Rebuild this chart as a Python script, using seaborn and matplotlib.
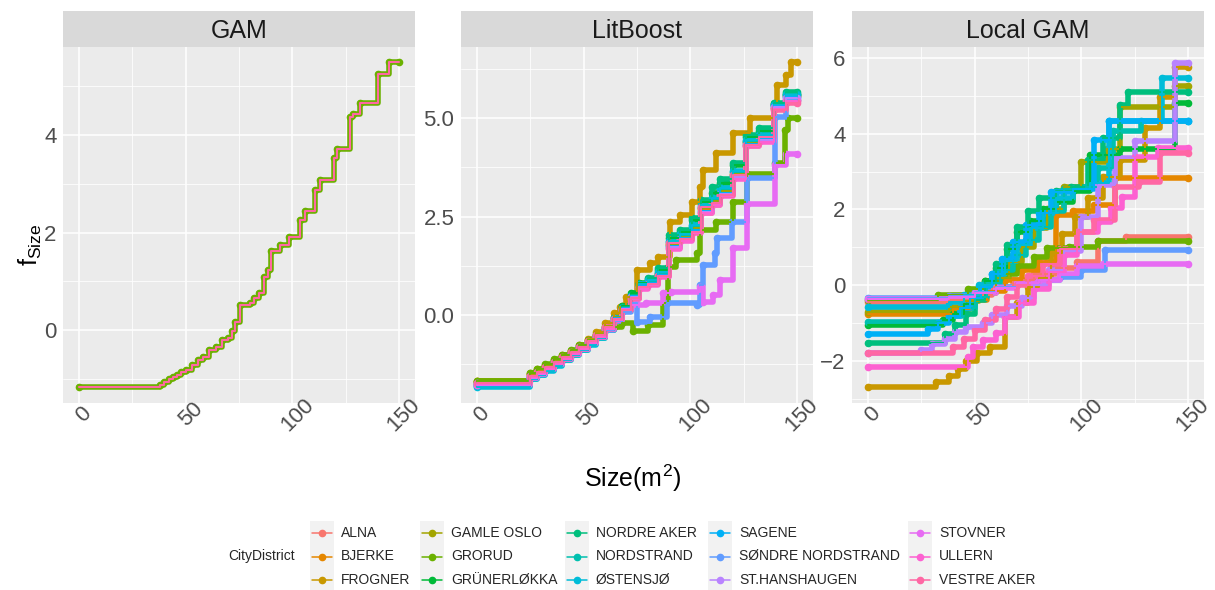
import matplotlib
matplotlib.use("Agg")
import matplotlib.pyplot as plt
from matplotlib.lines import Line2D
from matplotlib.patches import Rectangle
from matplotlib.ticker import MultipleLocator
from matplotlib.transforms import ScaledTranslation
import pandas as pd
import seaborn as sns

DISTRICTS = [
    "ALNA", "BJERKE", "FROGNER", "GAMLE OSLO", "GRORUD", "GRÜNERLØKKA",
    "NORDRE AKER", "NORDSTRAND", "ØSTENSJØ", "SAGENE", "SØNDRE NORDSTRAND",
    "ST.HANSHAUGEN", "STOVNER", "ULLERN", "VESTRE AKER",
]
COLORS = [
    "#F8766D", "#E58700", "#C99800", "#A3A500", "#6BB100", "#00BA38",
    "#00BF7D", "#00C0AF", "#00BCD8", "#00B0F6", "#619CFF", "#B983FF",
    "#E76BF3", "#FD61D1", "#FF67A4",
]
PALETTE = dict(zip(DISTRICTS, COLORS))
SIZE_TICKS = [0, 50, 100, 150]

# GAM: one shared shape function for every district
gam_x = [0, 38, 40, 42, 44, 46, 48, 50, 53, 56, 58, 61, 64, 67, 70, 71.5, 73, 75.5, 80, 82,
         84.5, 86.5, 88.5, 90, 94, 98.5, 103.5, 106, 110.5, 113, 119.5, 121, 127, 128.5,
         131.5, 140, 145.5, 150]
gam_y = [-1.16, -1.12, -1.06, -1.0, -0.96, -0.92, -0.86, -0.82, -0.72, -0.62, -0.56, -0.41,
         -0.34, -0.21, -0.17, -0.03, 0.17, 0.51, 0.55, 0.65, 0.75, 1.09, 1.23, 1.63, 1.74,
         1.91, 2.26, 2.45, 2.87, 3.08, 3.52, 3.71, 4.36, 4.44, 4.66, 5.26, 5.49, 5.49]

# LitBoost: most districts share the same step positions
lb_x = [0, 25, 28, 32, 36, 40, 44, 48, 52, 56, 60, 64, 68, 72, 76, 80, 85, 90, 95, 101,
        105, 110, 114, 120, 126, 132, 139, 145, 150]
litboost = {
    "ALNA": (lb_x, [-1.70, -1.52, -1.42, -1.30, -1.18, -1.06, -0.93, -0.80, -0.66, -0.50, -0.30, -0.10, 0.15, 0.42, 0.68, 0.78, 0.98, 1.70, 1.90, 2.10, 2.60, 2.80, 3.05, 3.48, 4.30, 4.42, 5.25, 5.45, 5.45]),
    "BJERKE": (lb_x, [-1.68, -1.50, -1.40, -1.28, -1.16, -1.04, -0.92, -0.80, -0.65, -0.50, -0.30, -0.06, 0.20, 0.50, 0.76, 0.85, 1.05, 1.78, 1.98, 2.18, 2.70, 2.88, 3.12, 3.55, 4.38, 4.50, 5.32, 5.55, 5.55]),
    "FROGNER": ([0, 25, 28, 32, 36, 40, 44, 48, 52, 56, 60, 64, 67, 70, 75, 81, 85, 90.5, 95, 101, 104.5, 106, 112, 120, 128, 139, 140.5, 145, 147, 150],
                [-1.70, -1.50, -1.40, -1.28, -1.15, -1.02, -0.90, -0.76, -0.60, -0.42, -0.20, 0.05, 0.21, 0.47, 1.14, 1.31, 1.48, 2.37, 2.54, 2.87, 3.25, 3.68, 4.10, 4.61, 4.99, 5.25, 5.84, 6.09, 6.41, 6.41]),
    "GAMLE OSLO": (lb_x, [-1.67, -1.48, -1.38, -1.27, -1.15, -1.03, -0.90, -0.78, -0.64, -0.48, -0.28, -0.04, 0.22, 0.52, 0.78, 0.86, 1.06, 1.80, 2.00, 2.20, 2.72, 2.90, 3.15, 3.58, 4.40, 4.52, 5.35, 5.58, 5.58]),
    "GRORUD": ([0, 25, 28, 32, 36, 40, 44, 48, 52, 56, 60, 64, 68, 73, 80, 87, 89.5, 93.5, 103, 104.5, 112, 120, 126.5, 139.5, 144.5, 146, 150],
               [-1.66, -1.46, -1.36, -1.24, -1.12, -1.00, -0.88, -0.76, -0.64, -0.50, -0.38, -0.30, -0.20, -0.40, -0.25, 0.30, 1.23, 1.40, 1.57, 2.16, 2.37, 2.87, 3.59, 3.85, 4.69, 4.99, 4.99]),
    "GRÜNERLØKKA": (lb_x, [-1.75, -1.57, -1.47, -1.34, -1.22, -1.10, -0.97, -0.84, -0.70, -0.54, -0.34, -0.08, 0.22, 0.55, 0.82, 0.92, 1.15, 1.95, 2.12, 2.40, 2.88, 3.10, 3.35, 3.80, 4.52, 4.68, 5.35, 5.62, 5.62]),
    "NORDRE AKER": (lb_x, [-1.78, -1.60, -1.50, -1.37, -1.25, -1.12, -0.99, -0.86, -0.72, -0.56, -0.36, -0.10, 0.20, 0.52, 0.80, 0.95, 1.20, 2.03, 2.16, 2.45, 2.92, 3.25, 3.45, 3.85, 4.57, 4.74, 5.37, 5.67, 5.67]),
    "NORDSTRAND": (lb_x, [-1.80, -1.62, -1.52, -1.40, -1.27, -1.14, -1.01, -0.88, -0.74, -0.58, -0.38, -0.12, 0.14, 0.44, 0.72, 0.84, 1.05, 1.85, 2.02, 2.25, 2.75, 2.95, 3.20, 3.62, 4.42, 4.55, 5.32, 5.60, 5.60]),
    "ØSTENSJØ": (lb_x, [-1.82, -1.63, -1.53, -1.41, -1.28, -1.15, -1.02, -0.89, -0.75, -0.59, -0.39, -0.14, 0.14, 0.48, 0.78, 0.90, 1.10, 1.88, 2.05, 2.28, 2.78, 2.98, 3.22, 3.65, 4.45, 4.58, 5.33, 5.58, 5.58]),
    "SAGENE": (lb_x, [-1.73, -1.55, -1.45, -1.33, -1.20, -1.08, -0.95, -0.82, -0.68, -0.52, -0.32, -0.08, 0.18, 0.48, 0.74, 0.82, 1.02, 1.75, 1.95, 2.15, 2.65, 2.85, 3.10, 3.52, 4.35, 4.48, 5.30, 5.52, 5.52]),
    "SØNDRE NORDSTRAND": ([0, 25, 28, 32, 36, 40, 44, 48, 52, 56, 60, 64, 68, 72, 75, 81, 89, 103, 104.5, 106, 111.5, 112.5, 119.5, 126.5, 139.5, 145, 150],
                          [-1.78, -1.60, -1.50, -1.38, -1.25, -1.12, -0.99, -0.86, -0.72, -0.56, -0.38, -0.15, 0.08, 0.30, -0.17, -0.04, 0.30, 0.25, 0.76, 1.27, 1.57, 1.95, 2.37, 3.47, 5.03, 5.45, 5.45]),
    "ST.HANSHAUGEN": (lb_x, [-1.74, -1.56, -1.46, -1.34, -1.21, -1.09, -0.96, -0.83, -0.69, -0.53, -0.33, -0.09, 0.16, 0.46, 0.72, 0.80, 1.00, 1.72, 1.92, 2.12, 2.62, 2.82, 3.08, 3.50, 4.32, 4.45, 5.28, 5.50, 5.50]),
    "STOVNER": ([0, 25, 28, 32, 36, 40, 44, 48, 52, 56, 60, 64, 68, 72, 79, 87, 91, 104.5, 106, 110.5, 114, 120, 126.5, 139.5, 145, 150],
                [-1.77, -1.59, -1.49, -1.37, -1.24, -1.11, -0.98, -0.85, -0.71, -0.55, -0.35, -0.12, 0.15, 0.25, 0.30, 0.55, 0.59, 0.72, 0.34, 0.51, 0.89, 1.69, 2.83, 3.81, 4.09, 4.09]),
    "ULLERN": (lb_x, [-1.76, -1.58, -1.48, -1.36, -1.23, -1.11, -0.98, -0.85, -0.71, -0.55, -0.35, -0.12, 0.12, 0.40, 0.66, 0.76, 0.96, 1.68, 1.88, 2.08, 2.58, 2.78, 3.02, 3.45, 4.28, 4.40, 5.22, 5.42, 5.42]),
    "VESTRE AKER": (lb_x, [-1.72, -1.54, -1.44, -1.32, -1.19, -1.07, -0.94, -0.81, -0.67, -0.51, -0.31, -0.10, 0.14, 0.44, 0.70, 0.78, 0.98, 1.82, 1.92, 2.10, 2.75, 2.85, 3.05, 3.55, 4.31, 4.52, 5.20, 5.37, 5.37]),
}

# Local GAM: each district has its own shape function
local_gam = {
    "ALNA": ([0, 38, 48, 58, 68, 78, 88, 98, 108, 121, 150],
             [-0.44, -0.38, -0.25, -0.05, 0.15, 0.30, 0.45, 0.62, 1.18, 1.28, 1.28]),
    "BJERKE": ([0, 40, 48, 56, 64, 72, 80, 88, 96, 106, 116, 150],
               [-0.77, -0.62, -0.40, -0.15, 0.15, 0.40, 0.60, 1.85, 1.95, 2.11, 2.82, 2.82]),
    "FROGNER": ([0, 32, 38, 42, 46, 51, 57, 64, 70, 75, 80, 86, 91, 97, 103, 110, 118, 130, 137, 144, 150],
                [-2.68, -2.55, -2.40, -2.20, -2.00, -1.80, -1.62, -0.83, -0.48, -0.05, 0.20, 0.85, 1.35, 1.80, 2.30, 2.86, 3.30, 4.14, 4.98, 5.77, 5.77]),
    "GAMLE OSLO": ([0, 38, 45, 52, 60, 66, 72, 78, 84, 92, 100, 112, 118, 144, 150],
                   [-0.70, -0.58, -0.42, -0.20, 0.20, 0.60, 1.00, 1.50, 2.00, 2.60, 3.26, 3.60, 4.71, 5.26, 5.26]),
    "GRORUD": ([0, 33, 47, 55, 62, 70, 78, 84, 94, 108, 150],
               [-0.40, -0.26, -0.10, 0.10, 0.30, 0.50, 0.75, 0.97, 1.01, 1.16, 1.16]),
    "GRÜNERLØKKA": ([0, 35, 40, 45, 50, 55, 60, 65, 70, 76, 82, 88, 96, 104, 118, 144, 150],
                    [-1.06, -0.92, -0.75, -0.50, -0.20, 0.10, 0.45, 0.95, 1.40, 1.70, 2.00, 2.20, 2.50, 3.43, 3.60, 4.80, 4.80]),
    "NORDRE AKER": ([0, 36, 41, 46, 50, 55, 60, 65, 70, 75, 80, 88, 95, 103, 110, 118, 122, 150],
                    [-1.52, -1.30, -1.05, -0.75, -0.40, 0.05, 0.55, 1.05, 1.55, 1.95, 2.30, 2.50, 2.60, 3.30, 3.90, 4.75, 5.11, 5.11]),
    "NORDSTRAND": ([0, 38, 44, 50, 56, 62, 68, 74, 80, 86, 92, 102, 108, 115, 128, 150],
                   [-0.97, -0.82, -0.60, -0.30, 0.05, 0.40, 0.80, 1.20, 1.55, 1.95, 2.55, 2.60, 3.10, 4.08, 4.34, 4.34]),
    "ØSTENSJØ": ([0, 38, 45, 52, 58, 64, 70, 76, 82, 88, 96, 104, 113, 138, 150],
                 [-0.57, -0.45, -0.25, 0.00, 0.30, 0.65, 1.05, 1.50, 1.90, 2.30, 2.55, 2.70, 4.34, 5.48, 5.48]),
    "SAGENE": ([0, 28, 33, 38, 43, 48, 53, 58, 63, 68, 74, 80, 86, 96, 106, 113, 150],
               [-1.30, -1.15, -1.00, -0.82, -0.60, -0.35, -0.05, 0.30, 0.70, 1.15, 1.60, 1.90, 2.45, 2.55, 3.83, 4.34, 4.34]),
    "SØNDRE NORDSTRAND": ([0, 38, 50, 60, 70, 80, 90, 100, 111, 150],
                          [-0.33, -0.28, -0.18, -0.05, 0.05, 0.15, 0.22, 0.40, 0.92, 0.92]),
    "ST.HANSHAUGEN": ([0, 25, 30, 36, 41, 46, 54, 58, 65, 72, 78, 85, 92, 100, 108, 116, 125, 144, 150],
                      [-1.80, -1.70, -1.55, -1.41, -1.24, -1.10, -1.01, -0.79, -0.55, -0.35, 0.00, 0.40, 0.90, 1.80, 2.64, 3.35, 3.81, 5.88, 5.88]),
    "STOVNER": ([0, 38, 50, 60, 70, 80, 90, 98, 110, 150],
                [-0.36, -0.30, -0.20, -0.08, 0.05, 0.15, 0.30, 0.50, 0.55, 0.55]),
    "ULLERN": ([0, 47, 49, 54, 60, 64, 71, 78, 85, 92, 98, 108, 114, 119, 125, 136, 150],
               [-2.16, -1.90, -1.63, -1.45, -1.27, -0.83, -0.48, -0.10, 0.35, 0.80, 1.40, 1.67, 2.05, 2.34, 3.39, 3.61, 3.61]),
    "VESTRE AKER": ([0, 40, 45, 50, 55, 60, 65, 70, 75, 82, 90, 98, 106, 116, 127, 137, 150],
                    [-1.80, -1.62, -1.42, -1.18, -0.92, -0.62, -0.32, 0.00, 0.25, 0.55, 0.95, 1.40, 1.72, 2.60, 2.73, 3.48, 3.48]),
}


def to_frame(knots):
    rows = []
    for d in DISTRICTS:
        xs, ys = knots[d]
        for x, y in zip(xs, ys):
            rows.append({"district": d, "size": x, "f": y})
    return pd.DataFrame(rows)


sns.set_theme(style="white")
plt.rcParams["font.family"] = ["Liberation Sans", "DejaVu Sans"]
plt.rcParams["mathtext.fontset"] = "custom"
plt.rcParams["mathtext.rm"] = "Liberation Sans"
plt.rcParams["mathtext.it"] = "Liberation Sans"

W, H = 1215, 590
fig = plt.figure(figsize=(W / 100, H / 100), dpi=100)

PANEL_LEFT = [63, 461, 852]
PANEL_W = 352
TOP, BOTTOM, STRIP_TOP = 47, 403, 11

# points (thick band with dots) first, thin connecting lines on top
band_kw = dict(estimator=None, errorbar=None, drawstyle="steps-post", lw=4.0, marker="o",
               markersize=5.5, markeredgewidth=0, solid_capstyle="round",
               solid_joinstyle="round", legend=False, zorder=2)
line_kw = dict(estimator=None, errorbar=None, drawstyle="steps-post", lw=1.5,
               marker="", legend=False, zorder=3)


def style_panel(ax, title, ylim, yticks, ylabels, yminor):
    ax.set_facecolor("#EBEBEB")
    for s in ax.spines.values():
        s.set_visible(False)
    ax.set_xlim(-7.5, 157.5)
    ax.set_ylim(*ylim)
    ax.set_xticks(SIZE_TICKS, [str(t) for t in SIZE_TICKS])
    ax.xaxis.set_minor_locator(MultipleLocator(25))
    ax.set_yticks(yticks, ylabels)
    ax.set_yticks(yminor, minor=True)
    ax.grid(which="major", color="white", lw=1.1)
    ax.grid(which="minor", color="white", lw=0.55)
    ax.set_axisbelow(True)
    ax.tick_params(which="major", length=2.75, width=0.8, color="#333333",
                   labelsize=16, labelcolor="#4D4D4D")
    ax.tick_params(which="minor", length=0)
    ax.tick_params(axis="y", pad=2)
    ax.tick_params(axis="x", pad=5.5, labelrotation=45)
    shift = ScaledTranslation(5 / 100, 0, fig.dpi_scale_trans)
    for lab in ax.get_xticklabels():
        lab.set_ha("center")
        lab.set_va("center")
        lab.set_transform(lab.get_transform() + shift)
    ax.set_xlabel("")
    ax.set_ylabel("")

    pos = ax.get_position()
    strip = fig.add_axes([pos.x0, 1 - TOP / H, pos.width, (TOP - STRIP_TOP) / H])
    strip.set_facecolor("#D9D9D9")
    strip.set_xticks([])
    strip.set_yticks([])
    for s in strip.spines.values():
        s.set_visible(False)
    strip.text(0.5, 0.45, title, ha="center", va="center", fontsize=18, color="#1A1A1A",
               transform=strip.transAxes)


axes = []
for left in PANEL_LEFT:
    axes.append(fig.add_axes([left / W, 1 - BOTTOM / H, PANEL_W / W, (BOTTOM - TOP) / H]))

# GAM
ax = axes[0]
sns.lineplot(x=gam_x, y=gam_y, color=PALETTE["GRORUD"], ax=ax, **band_kw)
sns.lineplot(x=gam_x, y=gam_y, color=PALETTE["VESTRE AKER"], ax=ax, **line_kw)
style_panel(ax, "GAM", (-1.497, 5.805), [0, 2, 4], ["0", "2", "4"], [-1, 1, 3, 5])

# LitBoost and Local GAM
for ax, knots, title, ylim, yt, yl, ym in [
    (axes[1], litboost, "LitBoost", (-2.23, 6.80), [0, 2.5, 5.0], ["0.0", "2.5", "5.0"],
     [-1.25, 1.25, 3.75, 6.25]),
    (axes[2], local_gam, "Local GAM", (-3.11, 6.29), [-2, 0, 2, 4, 6],
     ["\u22122", "0", "2", "4", "6"], [-3, -1, 1, 3, 5]),
]:
    df = to_frame(knots)
    sns.lineplot(data=df, x="size", y="f", hue="district", hue_order=DISTRICTS,
                 palette=PALETTE, ax=ax, **band_kw)
    sns.lineplot(data=df, x="size", y="f", hue="district", hue_order=DISTRICTS,
                 palette=PALETTE, ax=ax, **line_kw)
    style_panel(ax, title, ylim, yt, yl, ym)

# axis titles
fig.text(30 / W, 1 - 245 / H, r"$\mathregular{f_{Size}}$", rotation=90, ha="center",
         va="center", fontsize=18, color="black")
fig.text(633 / W, 1 - 478 / H, r"$\mathregular{Size(m^2)}$", ha="center", va="center",
         fontsize=18, color="black")

# legend, drawn by hand in ggplot style
lg = fig.add_axes([0, 0, 1, 1])
lg.set_xlim(0, W)
lg.set_ylim(H, 0)
lg.axis("off")
lg.text(228, 556, "CityDistrict", ha="left", va="center", fontsize=10)
key_x = [322, 432, 577, 720, 920]
row_y = [533, 556.5, 580]
for i, d in enumerate(DISTRICTS):
    cx, cy = key_x[i // 3], row_y[i % 3]
    lg.add_patch(Rectangle((cx - 12, cy - 11.75), 24, 23.5, color="#F2F2F2", lw=0))
    lg.add_line(Line2D([cx - 10, cx + 10], [cy, cy], color=PALETTE[d], lw=1.1))
    lg.add_line(Line2D([cx], [cy], color=PALETTE[d], marker="o", markersize=4.5, lw=0))
    lg.text(cx + 19, cy, d, ha="left", va="center", fontsize=10)

fig.savefig("out.png", dpi=100)
